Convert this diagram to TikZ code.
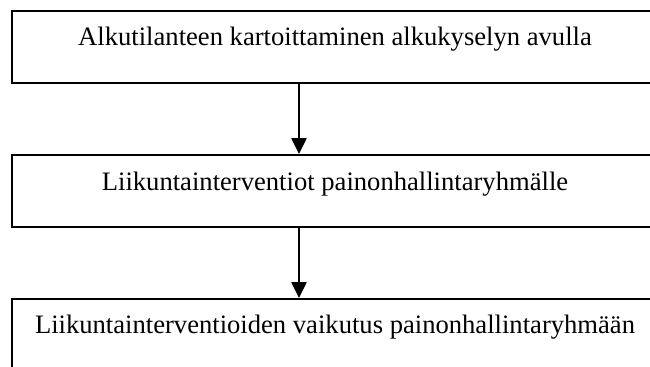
\documentclass[tikz,border=0pt]{standalone}
\usepackage{fontspec}
\setmainfont{Liberation Serif}
\usetikzlibrary{arrows.meta}

\begin{document}
\begin{tikzpicture}[x=0.451pt,y=0.451pt]
    \tikzstyle{every node}+=[inner sep=0pt]
    \tikzstyle{box}=[draw, line width=0.9pt, anchor=north west, minimum width=0.451pt*648, minimum height=0.451pt*72]
    \tikzstyle{txt}=[anchor=base, font=\fontsize{12}{14}\selectfont]
    \tikzstyle{arr}=[line width=1pt, -{Triangle[length=7.2pt,width=6.8pt]}]
    \useasboundingbox (0,0) rectangle (650,-367);
    \clip (0,0) rectangle (650,-367);
    \node [box] (b1) at (11,-10) {};
    \node [txt] (t1) at (335,-45) {Alkutilanteen kartoittaminen alkukyselyn avulla};
    \node [box] (b2) at (11,-154) {};
    \node [txt] (t2) at (335,-190) {Liikuntainterventiot painonhallintaryhmälle};
    \node [box] (b3) at (11,-298) {};
    \node [txt] (t3) at (335,-333) {Liikuntainterventioiden vaikutus painonhallintaryhmään};
    \coordinate (ax) at (299,0);
    \draw [arr] (b1.south -| ax) -- (b2.north -| ax);
    \draw [arr] (b2.south -| ax) -- (b3.north -| ax);
\end{tikzpicture}
\end{document}
